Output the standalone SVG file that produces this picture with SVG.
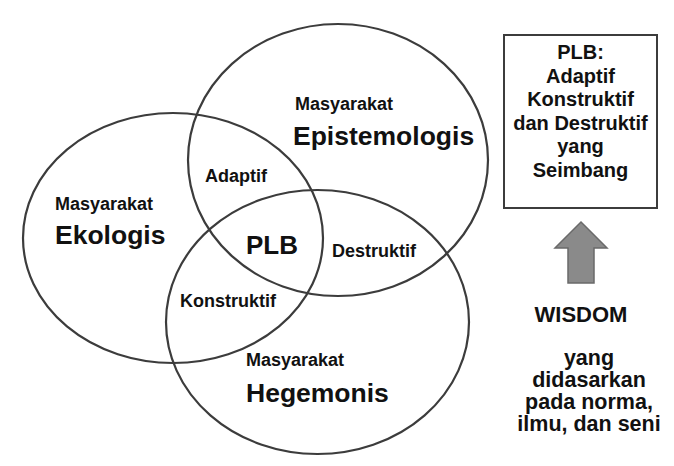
<svg xmlns="http://www.w3.org/2000/svg" width="674" height="466" viewBox="0 0 674 466">
<style>
.c{fill:none;stroke:#3c3c3c;stroke-width:2.2}
text{font-family:"Liberation Sans",Arial,sans-serif;font-weight:bold;fill:#111}
.s{font-size:18px}
.b{font-size:26.5px}
.m{text-anchor:middle}
</style>
<rect width="674" height="466" fill="#fff"/>
<g id="circles">
<ellipse id="ekologis" class="c" cx="173" cy="238" rx="150" ry="125"/>
<ellipse id="epistemologis" class="c" cx="338" cy="160" rx="150" ry="136"/>
<ellipse id="hegemonis" class="c" cx="317.5" cy="322" rx="151.5" ry="132"/>
</g>
<g id="labels">
<text class="s" x="55" y="210">Masyarakat</text>
<text class="b" x="55" y="244">Ekologis</text>
<text class="s" x="295" y="110">Masyarakat</text>
<text class="b" x="293" y="145">Epistemologis</text>
<text class="s" x="205" y="182">Adaptif</text>
<text x="246" y="254" style="font-size:26px">PLB</text>
<text class="s" x="332" y="257">Destruktif</text>
<text class="s" x="180" y="307">Konstruktif</text>
<text class="s" x="246" y="366">Masyarakat</text>
<text class="b" x="246" y="402">Hegemonis</text>
</g>
<g id="box">
<rect x="504" y="35" width="153" height="173" fill="#fff" stroke="#3c3c3c" stroke-width="2"/>
<g class="m" style="font-size:20px">
<text x="580.5" y="59">PLB:</text>
<text x="580.5" y="82.5">Adaptif</text>
<text x="580.5" y="106">Konstruktif</text>
<text x="580.5" y="129.5">dan Destruktif</text>
<text x="580.5" y="153">yang</text>
<text x="580.5" y="176.5">Seimbang</text>
</g>
</g>
<g id="connectors">
<polygon points="581,222 607,248 594,248 594,283 568,283 568,248 555,248" fill="#8a8a8a" stroke="#6a6a6a" stroke-width="1.5"/>
</g>
<g id="wisdom">
<text class="m" x="581" y="322" style="font-size:22px">WISDOM</text>
<g class="m" style="font-size:21.5px">
<text x="589" y="365">yang</text>
<text x="589" y="387">didasarkan</text>
<text x="589" y="409">pada norma,</text>
<text x="589" y="431">ilmu, dan seni</text>
</g>
</g>
</svg>
